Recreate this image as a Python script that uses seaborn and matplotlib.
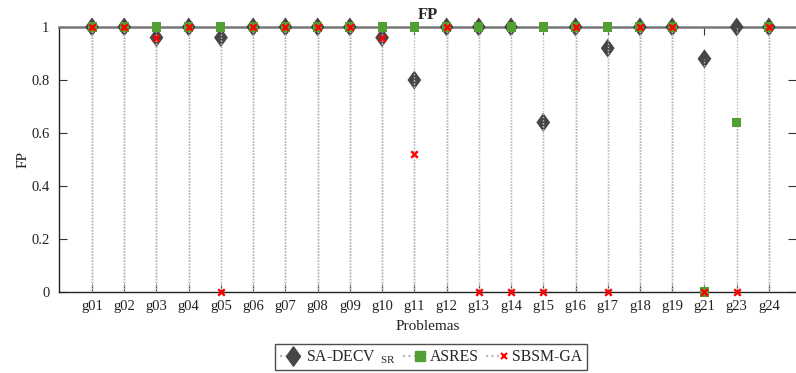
import matplotlib
matplotlib.use("Agg")
import matplotlib.pyplot as plt
import seaborn as sns
import pandas as pd
import numpy as np
from matplotlib.lines import Line2D
from matplotlib.legend_handler import HandlerLine2DCompound

problems = ["g01", "g02", "g03", "g04", "g05", "g06", "g07", "g08", "g09", "g10", "g11",
            "g12", "g13", "g14", "g15", "g16", "g17", "g18", "g19", "g21", "g23", "g24"]
sa_decv = [1, 1, 0.96, 1, 0.96, 1, 1, 1, 1, 0.96, 0.80, 1, 1, 1, 0.64, 1, 0.92, 1, 1, 0.88, 1, 1]
asres = [1, 1, 1, 1, 1, 1, 1, 1, 1, 1, 1, 1, 1, 1, 1, 1, 1, 1, 1, 0, 0.64, 1]
sbsm_ga = [1, 1, 0.96, 1, 0, 1, 1, 1, 1, 0.96, 0.52, 1, 0, 0, 0, 1, 0, 1, 1, 0, 0, 1]
series_labels = ["SA-DECV$_{\\ \\ \\mathrm{SR}}$", "ASRES", "SBSM-GA"]

sns.set_theme(style="ticks")
plt.rcParams["font.family"] = ["Liberation Serif", "DejaVu Serif"]
plt.rcParams["mathtext.fontset"] = "custom"
plt.rcParams["mathtext.rm"] = "Liberation Serif"
plt.rcParams["mathtext.it"] = "Liberation Serif"

fig = plt.figure(figsize=(7.96, 3.73), dpi=100)
ax = fig.add_axes([59 / 796, 1 - 292 / 373, 737 / 796, 265 / 373])

x = np.arange(len(problems))
df = pd.DataFrame({
    "x": np.tile(x, 3),
    "FP": sa_decv + asres + sbsm_ga,
    "Serie": np.repeat(["SA", "ASRES", "SBSM"], len(problems)),
})

colors = {"SA": "#464646", "ASRES": "#52a033", "SBSM": "#ff0000"}
diamond = [(0, 1), (0.72, 0), (0, -1), (-0.72, 0), (0, 1)]

# diamonds
sns.scatterplot(data=df[df.Serie == "SA"], x="x", y="FP", marker=diamond, s=190,
                color=colors["SA"], edgecolor="none", ax=ax, clip_on=False, zorder=3,
                legend=False)
# impulses (dotted)
for vals in (sa_decv, asres, sbsm_ga):
    ax.vlines(x, 0, vals, colors="#b8b8b8", linestyles=(0, (1, 1.2)), linewidth=1.0, zorder=4)
sns.scatterplot(data=df[df.Serie == "ASRES"], x="x", y="FP", marker="s", s=42,
                color=colors["ASRES"], edgecolor="none", ax=ax, clip_on=False, zorder=5,
                legend=False)
sns.scatterplot(data=df[df.Serie == "SBSM"], x="x", y="FP", marker="x", s=22,
                color=colors["SBSM"], linewidth=1.7, ax=ax, clip_on=False, zorder=6,
                legend=False)

ax.set_xlim(-1.024, 21.84)
ax.set_ylim(0, 1)
ax.set_xticks(x)
ax.set_xticklabels(problems)
ax.set_yticks([0, 0.2, 0.4, 0.6, 0.8, 1])
ax.set_yticklabels(["0", "0.2", "0.4", "0.6", "0.8", "1"])
ax.tick_params(axis="both", direction="in", top=True, right=True, labelsize=10.5,
               length=6, width=0.8, colors="#333333", labelcolor="#222222")
ax.tick_params(axis="y", pad=7)
ax.tick_params(axis="x", pad=6)
for s in ("left", "bottom"):
    ax.spines[s].set_color("#222222")
    ax.spines[s].set_linewidth(1.0)
ax.spines["top"].set_color("#777777")
ax.spines["top"].set_linewidth(1.8)
ax.spines["right"].set_visible(False)

ax.set_xlabel("Problemas", fontsize=11, color="#222222", labelpad=5)
ax.set_ylabel("FP", fontsize=11, color="#222222", labelpad=1)
ax.set_title("FP", fontsize=12, fontweight="bold", pad=6)


class RightMarkerHandler(HandlerLine2DCompound):
    def create_artists(self, legend, orig_handle, xdescent, ydescent, width, height,
                       fontsize, trans):
        artists = super().create_artists(legend, orig_handle, xdescent, ydescent, width,
                                         height, fontsize, trans)
        ms = orig_handle.get_markersize()
        if len(artists) == 2:
            artists[1].set_xdata([width - xdescent - ms * 0.4])
        return artists


handles = [
    Line2D([0], [0], color="#b8b8b8", linestyle=":", marker=diamond, markersize=14,
           markerfacecolor=colors["SA"], markeredgecolor=colors["SA"]),
    Line2D([0], [0], color="#b8b8b8", linestyle=":", marker="s", markersize=6.5,
           markerfacecolor=colors["ASRES"], markeredgecolor=colors["ASRES"]),
    Line2D([0], [0], color="#b8b8b8", linestyle=":", marker="x", markersize=4.5,
           markeredgewidth=1.6, markeredgecolor=colors["SBSM"]),
]
leg = fig.legend(handles, series_labels,
                 loc="center", bbox_to_anchor=(431 / 796, 1 - 357 / 373), ncol=3,
                 frameon=True, fancybox=False, fontsize=11.3, handlelength=1.35,
                 handletextpad=0.35, columnspacing=0.45, borderpad=0.3, numpoints=1,
                 handler_map={Line2D: RightMarkerHandler(numpoints=1)})
leg.get_frame().set_edgecolor("#222222")
leg.get_frame().set_linewidth(1.0)

fig.savefig("out.png", dpi=100)
